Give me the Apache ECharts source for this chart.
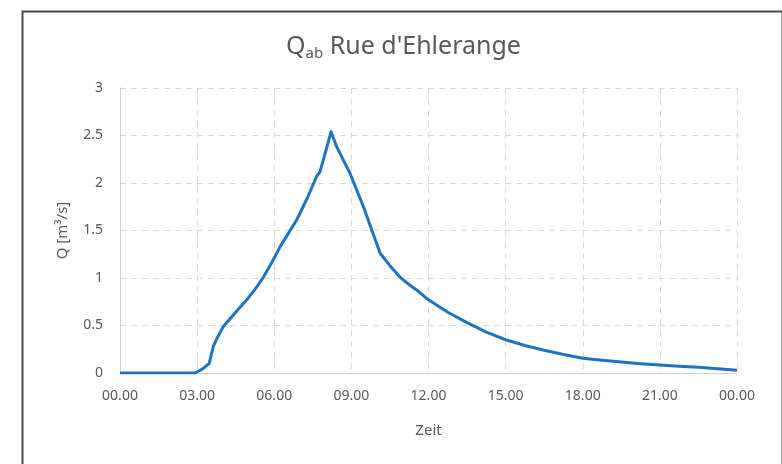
<!DOCTYPE html>
<html>
<head>
<meta charset="utf-8">
<script src="https://cdn.jsdelivr.net/npm/echarts@6/dist/echarts.min.js"></script>
<style>html,body{margin:0;padding:0;background:#fff;}#c{width:782px;height:464px;}</style>
</head>
<body>
<div id="c"></div>
<script>
var hours = [0, 2.92, 3.2, 3.47, 3.63, 3.8, 4.02, 4.5, 4.93, 5.25, 5.58, 5.9, 6.23, 6.87, 7.3, 7.65, 7.78, 8.0, 8.21, 8.43, 8.95, 9.47, 9.8, 10.12, 10.5, 10.89, 11.2, 11.6, 12, 12.75, 13.5, 14.25, 15, 15.75, 16.5, 17.25, 18, 18.75, 19.5, 20.25, 21, 21.75, 22.5, 23.25, 24];
var flow = [0, 0, 0.04, 0.10, 0.28, 0.38, 0.49, 0.64, 0.77, 0.88, 1.01, 1.16, 1.33, 1.61, 1.85, 2.07, 2.12, 2.33, 2.54, 2.38, 2.10, 1.75, 1.50, 1.26, 1.13, 1.01, 0.94, 0.86, 0.77, 0.64, 0.53, 0.43, 0.35, 0.29, 0.24, 0.195, 0.155, 0.135, 0.115, 0.098, 0.084, 0.072, 0.06, 0.045, 0.03];
var xTicks = ['00.00','03.00','06.00','09.00','12.00','15.00','18.00','21.00','00.00'];
var yTicks = [0, 0.5, 1, 1.5, 2, 2.5, 3];

var data = hours.map(function(h, i){ return [h, flow[i]]; });
var chart = echarts.init(document.getElementById('c'));
var font = 'Noto Sans';
chart.setOption({
  backgroundColor: '#ffffff',
  animation: false,
  graphic: [{
    type: 'rect', left: 20, top: 9, z: 100,
    shape: {x: 0, y: 0, width: 760, height: 470},
    style: {fill: 'none', stroke: '#4a4a4a', lineWidth: 2}
  }],
  title: {
    text: '{q|Q}{s|ab}{q| Rue d\'Ehlerange}',
    left: 281, top: 27,
    textStyle: {
      fontWeight: 'normal',
      rich: {
        q: {fontFamily: font, fontSize: 25, fontWeight: 'normal', color: '#595959'},
        s: {fontFamily: font, fontSize: 15, fontWeight: 'normal', color: '#595959', verticalAlign: 'bottom', padding: [14, 0, 0, 0]}
      }
    }
  },
  grid: {left: 120, right: 45, top: 88, bottom: 91},
  xAxis: {
    type: 'value', min: 0, max: 24, interval: 3,
    name: 'Zeit', nameLocation: 'middle', nameGap: 50,
    nameTextStyle: {fontFamily: font, fontSize: 15, color: '#595959'},
    axisLine: {show: true, lineStyle: {color: '#d0d0d0', width: 1}},
    axisTick: {show: false},
    axisLabel: {fontFamily: font, fontSize: 14, color: '#595959', margin: 16,
      formatter: function(v){ return xTicks[Math.round(v/3)]; }},
    splitLine: {show: true, lineStyle: {color: '#d9d9d9', type: [6, 5], width: 1}}
  },
  yAxis: {
    type: 'value', min: 0, max: 3, interval: 0.5,
    name: 'Q [m³/s]', nameLocation: 'middle', nameGap: 50,
    nameTextStyle: {fontFamily: font, fontSize: 15, color: '#595959'},
    axisLine: {show: true, lineStyle: {color: '#d0d0d0', width: 1}},
    axisTick: {show: false},
    axisLabel: {fontFamily: font, fontSize: 14, color: '#595959', margin: 17,
      formatter: function(v){ return String(yTicks[Math.round(v*2)]); }},
    splitLine: {show: true, lineStyle: {color: '#d9d9d9', type: [6, 5], width: 1}}
  },
  series: [{
    type: 'line', data: data, showSymbol: false, smooth: false,
    lineStyle: {color: '#1f74c2', width: 3, join: 'round'},
    itemStyle: {color: '#1f74c2'}
  }]
});
</script>
</body>
</html>
